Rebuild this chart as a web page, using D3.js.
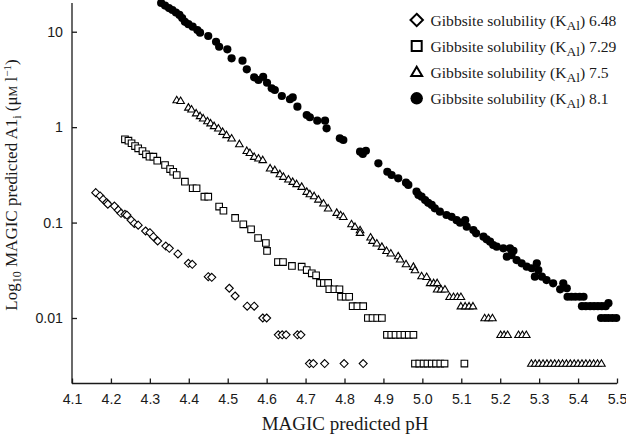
<!DOCTYPE html>
<html><head><meta charset="utf-8">
<script src="https://cdn.jsdelivr.net/npm/d3@7"></script>
<style>body{margin:0;background:#fff}svg{display:block}</style>
</head><body>
<svg id="c" width="626" height="434"></svg>
<script>
// Data: [pH, predicted Al (µM/l)]
const diamonds = [[4.161,0.206],[4.172,0.190],[4.180,0.175],[4.189,0.162],[4.192,0.156],[4.209,0.149],[4.219,0.135],[4.226,0.125],[4.236,0.122],[4.241,0.120],[4.252,0.106],[4.260,0.098],[4.270,0.094],[4.289,0.0816],[4.300,0.0783],[4.309,0.0711],[4.320,0.0641],[4.341,0.0568],[4.350,0.0537],[4.372,0.0469],[4.399,0.0374],[4.409,0.0365],[4.450,0.0271],[4.459,0.0267],[4.504,0.0205],[4.519,0.0170],[4.550,0.0133],[4.568,0.0133],[4.590,0.01],[4.600,0.01],[4.630,0.00667],[4.640,0.00667],[4.650,0.00667],[4.679,0.00667],[4.688,0.00667],[4.710,0.00333],[4.720,0.00333],[4.749,0.00333],[4.799,0.00333],[4.848,0.00333]];
const squares = [[4.236,0.745],[4.245,0.721],[4.253,0.678],[4.262,0.634],[4.270,0.600],[4.281,0.562],[4.290,0.519],[4.299,0.490],[4.309,0.490],[4.319,0.445],[4.339,0.401],[4.352,0.364],[4.360,0.341],[4.369,0.315],[4.390,0.268],[4.410,0.229],[4.420,0.229],[4.440,0.187],[4.450,0.187],[4.478,0.147],[4.489,0.133],[4.519,0.112],[4.540,0.0959],[4.560,0.085],[4.578,0.0689],[4.598,0.0611],[4.601,0.0504],[4.629,0.0386],[4.642,0.0386],[4.665,0.0351],[4.690,0.0345],[4.703,0.0318],[4.716,0.0294],[4.727,0.0280],[4.737,0.0233],[4.747,0.0233],[4.758,0.0233],[4.761,0.02],[4.774,0.02],[4.787,0.02],[4.791,0.0167],[4.803,0.0167],[4.812,0.0167],[4.821,0.0133],[4.833,0.0133],[4.848,0.0133],[4.860,0.01],[4.872,0.01],[4.884,0.01],[4.896,0.01],[4.909,0.00667],[4.920,0.00667],[4.931,0.00667],[4.943,0.00667],[4.954,0.00667],[4.965,0.00667],[4.977,0.00667],[4.981,0.00333],[4.992,0.00333],[5.003,0.00333],[5.013,0.00333],[5.024,0.00333],[5.035,0.00333],[5.046,0.00333],[5.057,0.00333],[5.108,0.00333]];
const triangles = [[4.369,1.92],[4.379,1.89],[4.399,1.61],[4.407,1.54],[4.419,1.40],[4.429,1.31],[4.437,1.24],[4.448,1.16],[4.456,1.10],[4.465,1.03],[4.476,0.972],[4.487,0.896],[4.497,0.828],[4.510,0.764],[4.530,0.666],[4.549,0.566],[4.557,0.539],[4.568,0.490],[4.579,0.471],[4.590,0.453],[4.609,0.371],[4.621,0.356],[4.634,0.323],[4.643,0.303],[4.656,0.284],[4.667,0.268],[4.677,0.254],[4.690,0.238],[4.703,0.211],[4.711,0.199],[4.722,0.190],[4.733,0.175],[4.746,0.159],[4.758,0.141],[4.780,0.127],[4.790,0.120],[4.797,0.115],[4.818,0.0966],[4.827,0.0905],[4.840,0.0836],[4.840,0.0783],[4.867,0.0701],[4.872,0.0646],[4.883,0.0607],[4.896,0.0559],[4.908,0.0507],[4.919,0.0476],[4.938,0.0446],[4.943,0.0412],[4.958,0.0368],[4.977,0.0345],[4.981,0.0318],[4.998,0.0275],[5.011,0.027],[5.020,0.0233],[5.029,0.0233],[5.038,0.0233],[5.038,0.02],[5.048,0.02],[5.058,0.02],[5.070,0.0167],[5.080,0.0167],[5.090,0.0167],[5.099,0.0167],[5.099,0.0133],[5.110,0.0133],[5.120,0.0133],[5.130,0.0133],[5.160,0.01],[5.170,0.01],[5.180,0.01],[5.201,0.00667],[5.210,0.00667],[5.219,0.00667],[5.247,0.00667],[5.257,0.00667],[5.267,0.00667],[5.28,0.00333],[5.29,0.00333],[5.30,0.00333],[5.31,0.00333],[5.32,0.00333],[5.33,0.00333],[5.34,0.00333],[5.35,0.00333],[5.36,0.00333],[5.37,0.00333],[5.38,0.00333],[5.39,0.00333],[5.40,0.00333],[5.41,0.00333],[5.42,0.00333],[5.43,0.00333],[5.44,0.00333],[5.45,0.00333],[5.46,0.00333]];
const circles = [[4.329,20.0],[4.339,18.8],[4.349,17.7],[4.358,16.9],[4.367,15.9],[4.376,15.0],[4.383,13.9],[4.390,12.7],[4.399,12.0],[4.410,11.3],[4.422,10.4],[4.429,9.77],[4.450,9.02],[4.470,7.85],[4.478,6.96],[4.499,6.54],[4.510,5.26],[4.538,4.97],[4.549,4.04],[4.568,3.33],[4.579,3.12],[4.591,3.37],[4.601,2.92],[4.613,2.55],[4.621,2.45],[4.639,2.12],[4.660,1.96],[4.667,2.05],[4.679,1.64],[4.703,1.34],[4.711,1.27],[4.730,1.17],[4.750,1.17],[4.754,0.972],[4.788,0.764],[4.797,0.733],[4.840,0.553],[4.855,0.566],[4.847,0.523],[4.887,0.418],[4.910,0.341],[4.921,0.315],[4.938,0.291],[4.958,0.262],[4.964,0.248],[4.985,0.211],[4.990,0.195],[4.998,0.187],[5.007,0.172],[5.015,0.161],[5.024,0.153],[5.032,0.141],[5.045,0.130],[5.062,0.120],[5.075,0.115],[5.088,0.106],[5.097,0.0997],[5.110,0.106],[5.114,0.0905],[5.131,0.0836],[5.138,0.0772],[5.157,0.0711],[5.165,0.0668],[5.174,0.0630],[5.182,0.0582],[5.191,0.0559],[5.208,0.0537],[5.225,0.0537],[5.234,0.0507],[5.217,0.0439],[5.229,0.0457],[5.242,0.0405],[5.255,0.0374],[5.268,0.0345],[5.281,0.0332],[5.294,0.0374],[5.298,0.0318],[5.289,0.0271],[5.307,0.0271],[5.319,0.0250],[5.336,0.0231],[5.362,0.0231],[5.371,0.0205],[5.354,0.02],[5.373,0.0167],[5.383,0.0167],[5.393,0.0167],[5.404,0.0167],[5.414,0.0167],[5.410,0.0133],[5.420,0.0133],[5.431,0.0133],[5.441,0.0133],[5.451,0.0133],[5.461,0.0133],[5.471,0.0133],[5.478,0.0143],[5.459,0.01],[5.469,0.01],[5.478,0.01],[5.488,0.01],[5.498,0.01]];
const xTicks = [4.1,4.2,4.3,4.4,4.5,4.6,4.7,4.8,4.9,5.0,5.1,5.2,5.3,5.4,5.5];
const yTicks = [0.01,0.1,1,10];
const yTickLabels = ["0.01","0.1","1","10"];
const legendValues = ["6.48","7.29","7.5","8.1"];

const svg = d3.select("#c");
const x = d3.scaleLinear().domain([4.1,5.5]).range([72,617]);
const y = d3.scaleLog().domain([0.002,20]).range([384.7,3]);
const axisY0 = 383.5;
const ink = "#1a1a1a";

// markers
const shapes = {
  diamond: r => `M0,${-r}L${r},0L0,${r}L${-r},0Z`,
  square: r => `M${-r},${-r}H${r}V${r}H${-r}Z`,
  triangle: r => `M0,${-r*1.05}L${r*1.05},${r*0.75}L${-r*1.05},${r*0.75}Z`,
};
function drawSeries(data, kind, size){
  const g = svg.append("g");
  if(kind==="circle"){
    g.selectAll("circle").data(data).join("circle")
      .attr("cx",d=>x(d[0])).attr("cy",d=>y(d[1])).attr("r",size).attr("fill","#000");
  } else {
    g.selectAll("path").data(data).join("path")
      .attr("transform",d=>`translate(${x(d[0])},${y(d[1])})`)
      .attr("d",shapes[kind](size)).attr("fill","#fff").attr("stroke","#000").attr("stroke-width",1.1);
  }
}
drawSeries(diamonds,"diamond",4);
drawSeries(squares,"square",3.3);
drawSeries(triangles,"triangle",3.6);
drawSeries(circles,"circle",4.1);

// axes
const xAxis = d3.axisBottom(x).tickValues(xTicks).tickFormat(d3.format(".1f")).tickSizeInner(-5).tickSizeOuter(0).tickPadding(10);
const gx = svg.append("g").attr("transform",`translate(0,${axisY0})`).call(xAxis);
gx.select(".domain").attr("d",`M${x(4.1)},0H${x(5.5)}`);
const yAxis = d3.axisLeft(y).tickValues(yTicks).tickFormat((d,i)=>yTickLabels[i]).tickSizeInner(-5).tickSizeOuter(0).tickPadding(9);
const gy = svg.append("g").attr("transform",`translate(${x(4.1)},0)`).call(yAxis);
gy.select(".domain").attr("d",`M0,3V${axisY0}`);
[gx,gy].forEach(g=>{
  g.selectAll("path,line").attr("stroke",ink).attr("stroke-width",1.3);
  g.selectAll("text").attr("font-family","'Liberation Sans',Arial,sans-serif").attr("font-size",14.2).attr("fill",ink);
});

// axis titles
svg.append("text").attr("x",345).attr("y",430).attr("text-anchor","middle")
  .attr("font-family","'Liberation Serif','Times New Roman',serif").attr("font-size",19).attr("fill",ink)
  .text("MAGIC predicted pH");
const yt = svg.append("text").attr("transform","translate(17,185) rotate(-90)").attr("text-anchor","middle")
  .attr("font-family","'Liberation Serif','Times New Roman',serif").attr("font-size",17).attr("fill",ink);
yt.append("tspan").text("Log");
yt.append("tspan").attr("font-size",12).attr("dy",4).text("10");
yt.append("tspan").attr("dy",-4).text(" MAGIC predicted A1");
yt.append("tspan").attr("font-size",12).attr("dy",4).text("i");
yt.append("tspan").attr("dy",-4).text(" (μ");
yt.append("tspan").attr("font-size",12).text("M");
yt.append("tspan").text(" l");
yt.append("tspan").attr("font-size",11).attr("dy",-6).text("−1");
yt.append("tspan").attr("dy",6).text(")");

// legend
const legendKinds = ["diamond","square","triangle","circle"];
const lg = svg.append("g");
legendKinds.forEach((k,i)=>{
  const cy = 20 + i*26.1, cx = 416.7;
  if(k==="circle") lg.append("circle").attr("cx",cx).attr("cy",cy).attr("r",6.2).attr("fill","#000");
  else lg.append("path").attr("transform",`translate(${cx},${cy})`)
    .attr("d",shapes[k](k==="diamond"?6.2:k==="square"?5:5.2)).attr("fill","#fff").attr("stroke","#000").attr("stroke-width",2);
  const t = lg.append("text").attr("x",430.5).attr("y",cy+5.5)
    .attr("font-family","'Liberation Serif','Times New Roman',serif").attr("font-size",15.6).attr("fill",ink);
  t.append("tspan").text("Gibbsite solubility (K");
  t.append("tspan").attr("font-size",13.5).attr("dy",4).text("Al");
  t.append("tspan").attr("dy",-4).text(") "+legendValues[i]);
});
</script>
</body></html>
